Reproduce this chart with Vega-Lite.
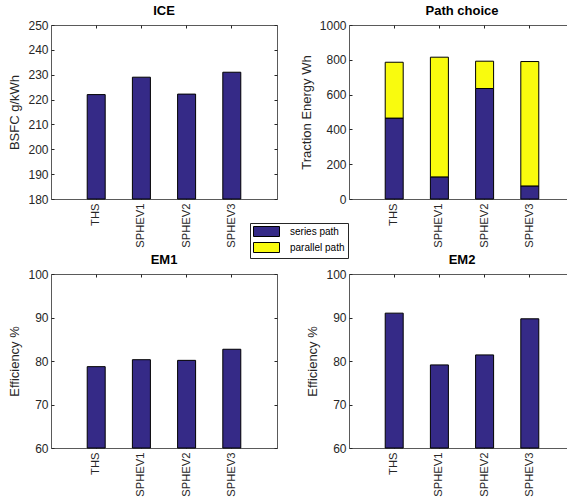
{
  "$schema": "https://vega.github.io/schema/vega-lite/v6.json",
  "padding": {"left": 8, "top": 4, "right": 0, "bottom": 0},
  "background": "white",
  "datasets": {
    "ice": [
      {"config": "THS", "bsfc": 222.0},
      {"config": "SPHEV1", "bsfc": 229.0},
      {"config": "SPHEV2", "bsfc": 222.2},
      {"config": "SPHEV3", "bsfc": 231.0}
    ],
    "path": [
      {"config": "THS", "path": "series path", "energy": 465},
      {"config": "THS", "path": "parallel path", "energy": 321},
      {"config": "SPHEV1", "path": "series path", "energy": 127},
      {"config": "SPHEV1", "path": "parallel path", "energy": 688},
      {"config": "SPHEV2", "path": "series path", "energy": 635},
      {"config": "SPHEV2", "path": "parallel path", "energy": 157},
      {"config": "SPHEV3", "path": "series path", "energy": 75},
      {"config": "SPHEV3", "path": "parallel path", "energy": 715}
    ],
    "em1": [
      {"config": "THS", "eff": 78.7},
      {"config": "SPHEV1", "eff": 80.3},
      {"config": "SPHEV2", "eff": 80.15},
      {"config": "SPHEV3", "eff": 82.7}
    ],
    "em2": [
      {"config": "THS", "eff": 91.0},
      {"config": "SPHEV1", "eff": 79.1},
      {"config": "SPHEV2", "eff": 81.4},
      {"config": "SPHEV3", "eff": 89.7}
    ]
  },
  "config": {
    "font": "Liberation Sans",
    "view": {"stroke": "#5a5a5a", "strokeWidth": 1},
    "axis": {
      "domain": false,
      "grid": false,
      "tickColor": "#262626",
      "tickSize": 3,
      "offset": -3,
      "labelFontSize": 12,
      "labelColor": "#262626",
      "labelFont": "Liberation Sans",
      "titleFont": "Liberation Sans",
      "titleFontSize": 13,
      "titleFontWeight": "normal",
      "titleColor": "#262626"
    },
    "axisBottom": {"labelFontSize": 11.2},
    "title": {"fontSize": 13, "fontWeight": "bold", "color": "black", "offset": 1, "font": "Liberation Sans"}
  },
  "spacing": 5,
  "vconcat": [
    {
      "spacing": 21,
      "hconcat": [
        {
          "title": "ICE",
          "width": 226, "height": 174,
          "data": {"name": "ice"},
          "layer": [
            {
              "mark": {"type": "bar", "fill": "#352A87", "stroke": "black", "strokeWidth": 1},
              "encoding": {
                "x": {"field": "config", "type": "nominal", "sort": null,
                      "scale": {"paddingInner": 0.602, "paddingOuter": 0.801},
                      "axis": {"orient": "bottom", "title": null, "labelAngle": 270, "labelAlign": "right", "labelBaseline": "middle", "labelPadding": 4}},
                "y": {"field": "bsfc", "type": "quantitative",
                      "scale": {"domain": [180, 250], "zero": false, "nice": false},
                      "axis": {"orient": "left", "title": "BSFC g/kWh", "values": [180, 190, 200, 210, 220, 230, 240, 250], "labelPadding": 3, "titlePadding": 6}},
                "y2": {"datum": 180}
              }
            },
            {
              "mark": {"type": "bar", "opacity": 0},
              "encoding": {
                "x": {"field": "config", "type": "nominal", "sort": null,
                      "axis": {"orient": "top", "title": null, "labels": false}},
                "y": {"field": "bsfc", "type": "quantitative",
                      "axis": {"orient": "right", "title": null, "labels": false, "values": [180, 190, 200, 210, 220, 230, 240, 250]}},
                "y2": {"datum": 180}
              }
            }
          ],
          "resolve": {"axis": {"x": "independent", "y": "independent"}}
        },
        {
          "title": "Path choice",
          "width": 226, "height": 174,
          "data": {"name": "path"},
          "layer": [
            {
              "mark": {"type": "bar", "stroke": "black", "strokeWidth": 1},
              "encoding": {
                "x": {"field": "config", "type": "nominal", "sort": null,
                      "scale": {"paddingInner": 0.602, "paddingOuter": 0.801},
                      "axis": {"orient": "bottom", "title": null, "labelAngle": 270, "labelAlign": "right", "labelBaseline": "middle", "labelPadding": 4}},
                "y": {"field": "energy", "type": "quantitative", "stack": "zero",
                      "scale": {"domain": [0, 1000], "nice": false},
                      "axis": {"orient": "left", "title": "Traction Energy Wh", "format": "d", "values": [0, 200, 400, 600, 800, 1000], "labelPadding": 3, "titlePadding": 6}},
                "color": {"field": "path", "type": "nominal",
                          "scale": {"domain": ["series path", "parallel path"], "range": ["#352A87", "#F9FB0E"]},
                          "legend": {"title": null, "orient": "none", "legendX": 199, "legendY": 198,
                                     "fillColor": "white", "strokeColor": "#262626", "padding": 3,
                                     "symbolType": "M-2.6,-1H2.6V1H-2.6Z", "symbolSize": 100, "symbolOffset": 8,
                                     "symbolStrokeColor": "black", "symbolStrokeWidth": 1, "symbolOpacity": 1,
                                     "labelFontSize": 10, "labelColor": "black", "labelOffset": 18, "rowPadding": 1}},
                "order": {"field": "path", "sort": "descending"}
              }
            },
            {
              "mark": {"type": "bar", "opacity": 0},
              "encoding": {
                "x": {"field": "config", "type": "nominal", "sort": null,
                      "axis": {"orient": "top", "title": null, "labels": false}},
                "y": {"field": "energy", "type": "quantitative", "aggregate": "sum",
                      "axis": {"orient": "right", "title": null, "labels": false, "values": [0, 200, 400, 600, 800, 1000]}}
              }
            }
          ],
          "resolve": {"axis": {"x": "independent", "y": "independent"}}
        }
      ]
    },
    {
      "spacing": 28,
      "hconcat": [
        {
          "title": "EM1",
          "width": 226, "height": 174,
          "data": {"name": "em1"},
          "layer": [
            {
              "mark": {"type": "bar", "fill": "#352A87", "stroke": "black", "strokeWidth": 1},
              "encoding": {
                "x": {"field": "config", "type": "nominal", "sort": null,
                      "scale": {"paddingInner": 0.602, "paddingOuter": 0.801},
                      "axis": {"orient": "bottom", "title": null, "labelAngle": 270, "labelAlign": "right", "labelBaseline": "middle", "labelPadding": 4}},
                "y": {"field": "eff", "type": "quantitative",
                      "scale": {"domain": [60, 100], "zero": false, "nice": false},
                      "axis": {"orient": "left", "title": "Efficiency %", "values": [60, 70, 80, 90, 100], "labelPadding": 3, "titlePadding": 6}},
                "y2": {"datum": 60}
              }
            },
            {
              "mark": {"type": "bar", "opacity": 0},
              "encoding": {
                "x": {"field": "config", "type": "nominal", "sort": null,
                      "axis": {"orient": "top", "title": null, "labels": false}},
                "y": {"field": "eff", "type": "quantitative",
                      "axis": {"orient": "right", "title": null, "labels": false, "values": [60, 70, 80, 90, 100]}},
                "y2": {"datum": 60}
              }
            }
          ],
          "resolve": {"axis": {"x": "independent", "y": "independent"}}
        },
        {
          "title": "EM2",
          "width": 226, "height": 174,
          "data": {"name": "em2"},
          "layer": [
            {
              "mark": {"type": "bar", "fill": "#352A87", "stroke": "black", "strokeWidth": 1},
              "encoding": {
                "x": {"field": "config", "type": "nominal", "sort": null,
                      "scale": {"paddingInner": 0.602, "paddingOuter": 0.801},
                      "axis": {"orient": "bottom", "title": null, "labelAngle": 270, "labelAlign": "right", "labelBaseline": "middle", "labelPadding": 4}},
                "y": {"field": "eff", "type": "quantitative",
                      "scale": {"domain": [60, 100], "zero": false, "nice": false},
                      "axis": {"orient": "left", "title": "Efficiency %", "values": [60, 70, 80, 90, 100], "labelPadding": 3, "titlePadding": 6}},
                "y2": {"datum": 60}
              }
            },
            {
              "mark": {"type": "bar", "opacity": 0},
              "encoding": {
                "x": {"field": "config", "type": "nominal", "sort": null,
                      "axis": {"orient": "top", "title": null, "labels": false}},
                "y": {"field": "eff", "type": "quantitative",
                      "axis": {"orient": "right", "title": null, "labels": false, "values": [60, 70, 80, 90, 100]}},
                "y2": {"datum": 60}
              }
            }
          ],
          "resolve": {"axis": {"x": "independent", "y": "independent"}}
        }
      ]
    }
  ]
}
